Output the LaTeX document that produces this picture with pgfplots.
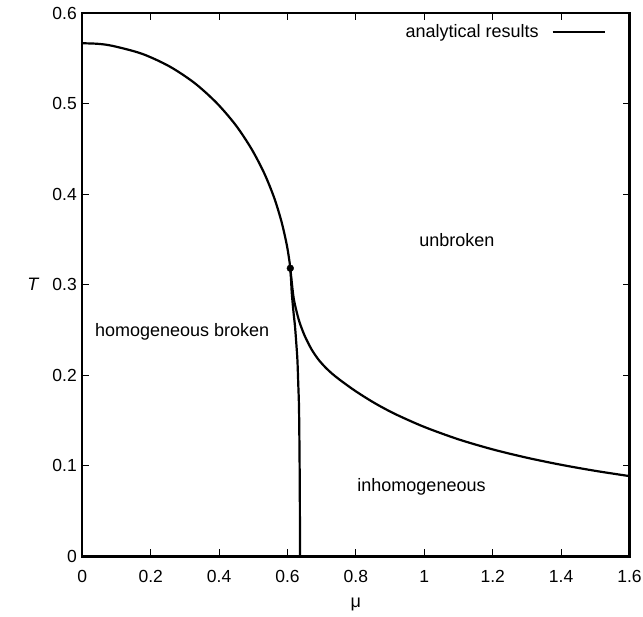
\documentclass[border=0pt]{standalone}
\usepackage{pgfplots}
\pgfplotsset{compat=1.18}
\usepackage{pgfplotstable}
\usepackage{fontspec}
\setmainfont{Liberation Sans}
\usetikzlibrary{calc}

\pgfplotstableread{
mu T
0.0000 0.5669
0.0445 0.5663
0.0886 0.5640
0.1745 0.5553
0.2551 0.5413
0.3285 0.5229
0.3933 0.5008
0.4489 0.4763
0.4949 0.4501
0.5320 0.4233
0.5607 0.3966
0.5820 0.3705
0.5972 0.3456
0.6050 0.3280
0.6070 0.3221
0.6082 0.3184
}\homline

\pgfplotstableread{
mu T
0.6082 0.3184
0.6105 0.3050
0.6125 0.2910
0.6175 0.2700
0.6220 0.2540
0.6258 0.2350
0.6290 0.2170
0.6315 0.1900
0.6336 0.1655
0.6350 0.1200
0.6360 0.0700
0.6366 0.0000
}\inhomline

\pgfplotstableread{
mu T
0.6082 0.3184
0.6170 0.2880
0.6250 0.2730
0.6350 0.2590
0.6500 0.2440
0.6700 0.2290
0.6900 0.2178
0.7100 0.2092
0.7290 0.2024
0.7500 0.1960
0.7780 0.1882
0.8000 0.1824
0.8360 0.1737
0.8700 0.1662
0.9190 0.1566
1.0000 0.1431
1.1000 0.1294
1.2000 0.1183
1.3000 0.1091
1.4000 0.1013
1.5000 0.0946
1.6000 0.0888
}\unbrline

\pgfplotstableread{
mu T
0.6082 0.3184
}\tcp

\begin{document}
\begin{tikzpicture}
\begin{axis}[
  name=ax,
  scale only axis,
  width=547.2pt, height=543.2pt,
  xmin=0, xmax=1.6, ymin=0, ymax=0.6,
  xtick={0,0.2,0.4,0.6,0.8,1,1.2,1.4,1.6},
  xticklabels={0,0.2,0.4,0.6,0.8,1,1.2,1.4,1.6},
  ytick={0,0.1,0.2,0.3,0.4,0.5,0.6},
  yticklabels={0,0.1,0.2,0.3,0.4,0.5,0.6},
  tick align=inside,
  major tick length=7pt,
  every tick/.style={black, line width=1pt},
  axis line style={line width=2.3pt},
  ticklabel style={font=\fontsize{17.5}{20}\selectfont},
  xticklabel style={yshift=-10pt},
  yticklabel style={xshift=-2pt},
  xlabel={μ},
  ylabel={\textit{T}},
  xlabel style={font=\fontsize{18}{20}\selectfont, at={(rel axis cs:0.5,0)}, anchor=center, yshift=-48pt},
  ylabel style={font=\fontsize{18}{20}\selectfont, rotate=-90, at={(rel axis cs:0,0.5017)}, anchor=center, xshift=-49pt},
  legend style={at={(rel axis cs:0.957,0.966)}, anchor=east, draw=none, fill=none,
    font=\fontsize{18}{20}\selectfont, inner sep=0pt,
    /tikz/every odd column/.append style={column sep=11pt}},
  legend cell align=right,
  legend plot pos=right,
  legend image code/.code={\draw[#1] (0pt,0pt) -- (52pt,0pt);},
]
\addplot[black, line width=2.2pt, smooth] table[x=mu, y=T] {\homline};
\addlegendentry{analytical results}
\addplot[black, line width=2.2pt, smooth, forget plot] table[x=mu, y=T] {\inhomline};
\addplot[black, line width=2.2pt, smooth, forget plot] table[x=mu, y=T] {\unbrline};
\addplot[black, only marks, mark=*, mark size=3.4pt, forget plot] table[x=mu, y=T] {\tcp};
\node[anchor=base west, inner sep=0pt, font=\fontsize{18}{20}\selectfont] at (axis cs:0.037,0.243) {homogeneous broken};
\node[anchor=base west, inner sep=0pt, font=\fontsize{18}{20}\selectfont] at (axis cs:0.985,0.342) {unbroken};
\node[anchor=base west, inner sep=0pt, font=\fontsize{18}{20}\selectfont] at (axis cs:0.804,0.0716) {inhomogeneous};
\end{axis}
\pgfresetboundingbox
\useasboundingbox ($(ax.south west)+(-82.3pt,-60.5pt)$) rectangle ($(ax.north east)+(13.5pt,13.3pt)$);
\end{tikzpicture}
\end{document}
